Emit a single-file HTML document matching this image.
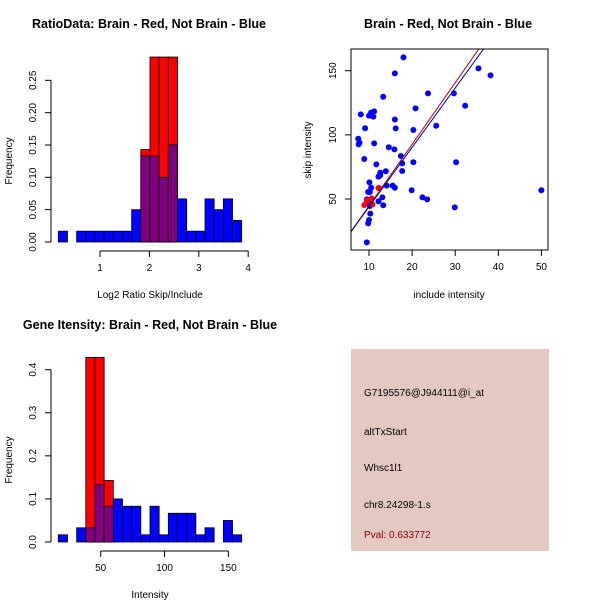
<!DOCTYPE html>
<html><head><meta charset="utf-8"><style>
html,body{margin:0;padding:0;background:#fff}
svg{display:block;font-family:"Liberation Sans",sans-serif}
</style></head><body>
<svg id="c" width="600" height="600" xmlns="http://www.w3.org/2000/svg">
<rect width="600" height="600" fill="#fff"/>
<text x="149" y="28" font-size="12.5" font-weight="bold" text-anchor="middle">RatioData: Brain - Red, Not Brain - Blue</text>
<text x="448" y="28" font-size="12.5" font-weight="bold" text-anchor="middle">Brain - Red, Not Brain - Blue</text>
<text x="150" y="329" font-size="12.5" font-weight="bold" text-anchor="middle">Gene Itensity: Brain - Red, Not Brain - Blue</text>
<text x="150" y="298" font-size="10" text-anchor="middle">Log2 Ratio Skip/Include</text>
<text x="12" y="161" font-size="10" text-anchor="middle" transform="rotate(-90 12 161)">Frequency</text>
<text x="449" y="298" font-size="10" text-anchor="middle">include intensity</text>
<text x="311" y="150" font-size="10" text-anchor="middle" transform="rotate(-90 311 150)">skip intensity</text>
<text x="150" y="598" font-size="10" text-anchor="middle">Intensity</text>
<text x="12" y="460" font-size="10" text-anchor="middle" transform="rotate(-90 12 460)">Frequency</text>
<g>
<rect x="351" y="349" width="198" height="202" fill="#E5C8C2"/>
<text x="364" y="396" font-size="10">G7195576@J944111@i_at</text>
<text x="364" y="435" font-size="10">altTxStart</text>
<text x="364" y="471" font-size="10">Whsc1l1</text>
<text x="364" y="508" font-size="10">chr8.24298-1.s</text>
<text x="364" y="538" font-size="10" fill="#8B0000">Pval: 0.633772</text>
</g>
</svg>
<script>
// Ratio histogram data
const ratioBinStart = 0.156, ratioBinWidth = 0.1856;
const ratioBlue = [0.0167,0,0.0167,0.0167,0.0167,0.0167,0.0167,0.0167,0.05,0.133,0.133,0.1,0.15,0.0667,0.0167,0.0167,0.0667,0.05,0.0667,0.0333];
const ratioRed = [0,0,0,0,0,0,0,0,0,0.143,0.286,0.286,0.286,0,0,0,0,0,0,0];
const ratioXTicks = [1,2,3,4];
const ratioYTicks = ["0.00","0.05","0.10","0.15","0.20","0.25"];
// Intensity histogram data
const intBinStart = 16.8, intBinWidth = 7.18;
const intBlue = [0.0167,0,0.033,0.033,0.133,0.083,0.1,0.083,0.083,0.0167,0.083,0.0167,0.0667,0.0667,0.0667,0.0167,0.033,0,0.05,0.0167];
const intRed = [0,0,0,0.4286,0.4286,0.143,0,0,0,0,0,0,0,0,0,0,0,0,0,0];
const intXTicks = [50,100,150];
const intYTicks = ["0.0","0.1","0.2","0.3","0.4"];
// Scatter data
const blueX = [18,16,35.4,38.2,13.3,23.7,29.7,32.3,8.1,10,10.5,11.2,11,20.8,9.1,16,16.2,20.3,25.6,7.5,7.6,7.8,11.2,14.6,15.9,8.9,17.4,11.7,17.7,20.3,30.2,13.9,12.6,12.2,17.7,10.1,10.5,12.3,14.1,15.5,16,19.9,50,9.8,10.2,13.1,22.4,23.5,12.2,13.3,9.9,9.5,10.2,29.9,10.3,10,9.8,9.5,12.6];
const blueY = [160.4,147.9,151.8,146.4,129.7,132.3,132.3,122.7,116,115,117.3,118.3,114.2,120.6,105.1,112,105,103.8,107.1,97,92.6,93.9,93.4,90.3,88.7,81.2,83.5,77,77.8,78.6,78.6,71.6,70.5,67.4,71.8,63,58.8,58.6,60.4,60.4,58.8,56.8,56.8,55.5,55.5,51.3,51.3,49.7,48.2,45.1,47.7,49.7,44.5,43.5,38.6,33.6,31,16.2,68.5];
const redX = [8.9,9.5,10.6,10.8,12.2];
const redY = [45.3,48.7,50.5,45.8,58.6];
const redFit = [-3.4,4.8];
const blueFit = [-2.4,4.63];
const scXTicks = [10,20,30,40,50];
const scYTicks = [50,100,150];

const svg = document.getElementById('c');
const NS = 'http://www.w3.org/2000/svg';
function mk(tag, attrs, parent){const e=document.createElementNS(NS,tag);for(const k in attrs)e.setAttribute(k,attrs[k]);(parent||svg).appendChild(e);return e;}

function hist(g, blue, red, start, w, sx, sy, name){
  for(let i=0;i<blue.length;i++){
    const x0=sx(start+i*w), x1=sx(start+(i+1)*w);
    const b=blue[i], r=red[i];
    if(r>0){
      const e=mk('rect',{x:x0,y:sy(r),width:x1-x0,height:sy(0)-sy(r),fill:'#FF0000',stroke:'#000','stroke-width':0.8},g);
      
      
    }
    if(b>0){
      if(r>0){
        const lo=Math.min(b,r);
        const e=mk('rect',{x:x0,y:sy(lo),width:x1-x0,height:sy(0)-sy(lo),fill:'#800080',stroke:'#000','stroke-width':0.8},g);
        
        
      }
      if(!(r>0) || b>r){
        const e=mk('rect',{x:x0,y:sy(b),width:x1-x0,height:sy(0)-sy(b),fill:'#0000FF',stroke:'#000','stroke-width':0.8},g);
        
        
      }
    }
  }
}
function yAxis(g,x,ticks,sy,label){
  const v=ticks.map(Number);
  mk('line',{x1:x,x2:x,y1:sy(v[0]),y2:sy(v[v.length-1]),stroke:'#000'},g);
  ticks.forEach((t,i)=>{
    mk('line',{x1:x-6,x2:x,y1:sy(v[i]),y2:sy(v[i]),stroke:'#000'},g);
    const tx=mk('text',{x:x-15,y:sy(v[i]),'font-size':10,'text-anchor':'middle',transform:`rotate(-90 ${x-15} ${sy(v[i])})`},g);
    tx.textContent=t;
    
    
  });
}
function xAxis(g,y,ticks,sx,label){
  mk('line',{x1:sx(ticks[0]),x2:sx(ticks[ticks.length-1]),y1:y,y2:y,stroke:'#000'},g);
  ticks.forEach(t=>{
    mk('line',{x1:sx(t),x2:sx(t),y1:y,y2:y+6,stroke:'#000'},g);
    const tx=mk('text',{x:sx(t),y:y+20,'font-size':10,'text-anchor':'middle'},g);
    tx.textContent=t;
    
    
  });
}

// Panel 1
const g1=mk('g',{});


const sx1=v=>100+(v-1)*49.4, sy1=v=>242-v*646.7;
hist(g1,ratioBlue,ratioRed,ratioBinStart,ratioBinWidth,sx1,sy1,'ratio');
yAxis(g1,51,ratioYTicks,sy1,'ratio-y');
xAxis(g1,251,ratioXTicks,sx1,'ratio-x');

// Panel 3
const g3=mk('g',{});


const sx3=v=>100.7+(v-50)*1.277, sy3=v=>542-v*430.8;
hist(g3,intBlue,intRed,intBinStart,intBinWidth,sx3,sy3,'intensity');
yAxis(g3,51,intYTicks,sy3,'intensity-y');
xAxis(g3,551,intXTicks,sx3,'intensity-x');

// Panel 2 scatter
const g2=mk('g',{});


const sx2=v=>369+(v-10)*4.31, sy2=v=>199-(v-50)*1.283;
const L=351,R=548,T=49,B=250;
mk('defs',{},g2).innerHTML='<clipPath id="cp"><rect x="351" y="49" width="197" height="201"/></clipPath>';
for(let i=0;i<blueX.length;i++){
  const c=mk('circle',{cx:sx2(blueX[i]),cy:sy2(blueY[i]),r:3,fill:'#0000FF'},g2);
  
  
}
for(let i=0;i<redX.length;i++){
  const c=mk('circle',{cx:sx2(redX[i]),cy:sy2(redY[i]),r:3,fill:'#FF0000'},g2);
  
  
}
[[redFit,'#B00000','red-fit-line'],[blueFit,'#0000A0','blue-fit-line']].forEach(([f,col,n])=>{
  const xa=0,xb=60;
  const l=mk('line',{x1:sx2(xa),y1:sy2(f[0]+f[1]*xa),x2:sx2(xb),y2:sy2(f[0]+f[1]*xb),stroke:col,'stroke-width':1,'clip-path':'url(#cp)'},g2);
  
  
});
mk('rect',{x:L,y:T,width:R-L,height:B-T,fill:'none',stroke:'#000'},g2);
scXTicks.forEach(t=>{
  mk('line',{x1:sx2(t),x2:sx2(t),y1:B,y2:B+6,stroke:'#000'},g2);
  const tx=mk('text',{x:sx2(t),y:B+20,'font-size':10,'text-anchor':'middle'},g2);
  tx.textContent=t;
  
  
});
scYTicks.forEach(t=>{
  mk('line',{x1:L-6,x2:L,y1:sy2(t),y2:sy2(t),stroke:'#000'},g2);
  const tx=mk('text',{x:L-15,y:sy2(t),'font-size':10,'text-anchor':'middle',transform:`rotate(-90 ${L-15} ${sy2(t)})`},g2);
  tx.textContent=t;
  
  
});
</script>
</body></html>
